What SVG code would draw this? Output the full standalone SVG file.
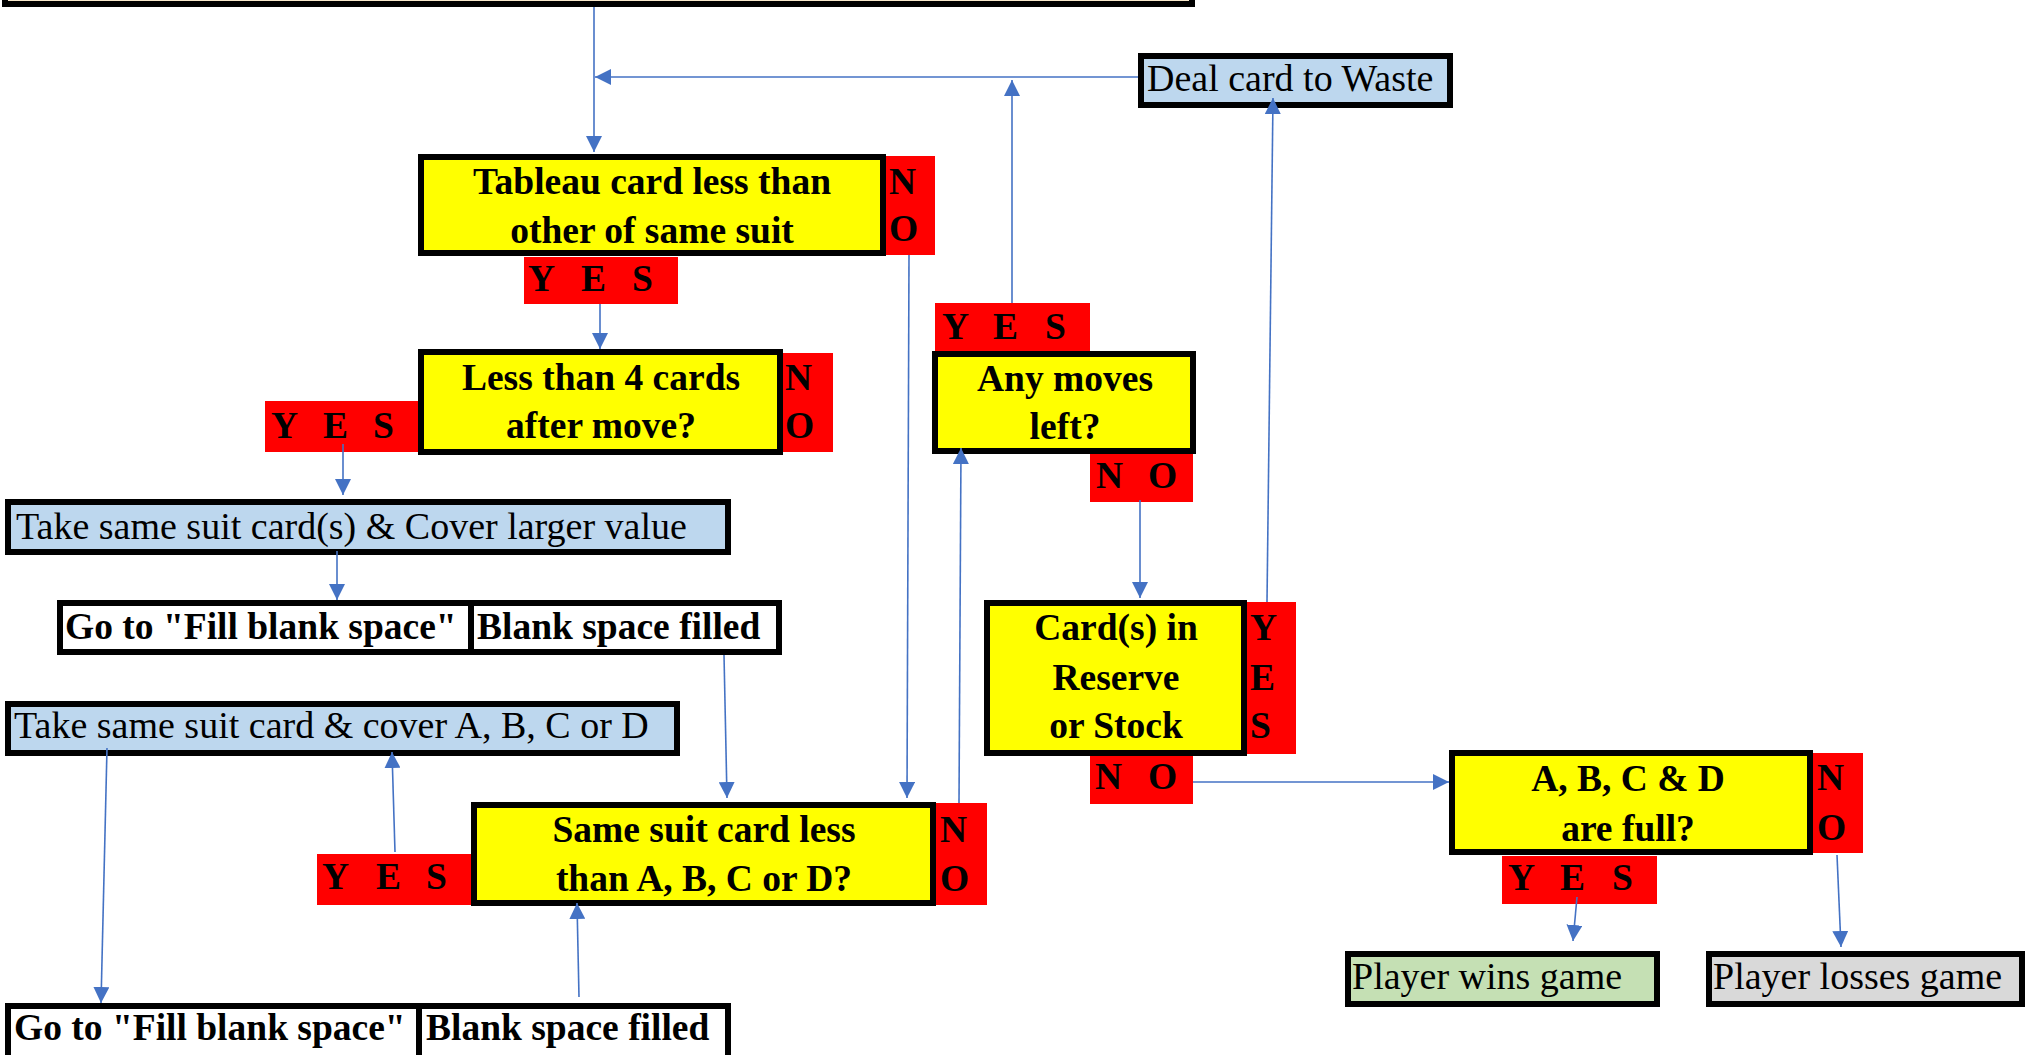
<svg xmlns="http://www.w3.org/2000/svg" width="2044" height="1055" viewBox="0 0 2044 1055">
<defs>
<style>
.t{font-family:"Liberation Serif","Times New Roman",serif;font-size:38px;fill:#000}
.b{font-weight:bold;font-size:37.5px}
.c{text-anchor:middle}
.dec{fill:#FFFF00;stroke:#000;stroke-width:6}
.act{fill:#BDD7EE;stroke:#000;stroke-width:6}
.wht{fill:#FFFFFF;stroke:#000;stroke-width:6}
.red{fill:#FF0000}
.cn{fill:none;stroke:#4472C4;stroke-width:1.6;marker-end:url(#ah)}
</style>
<marker id="ah" markerUnits="userSpaceOnUse" markerWidth="16" markerHeight="16" viewBox="0 0 16 16" refX="16" refY="8" orient="auto">
<path d="M0,0 L16,8 L0,16 z" fill="#4472C4"/>
</marker>
</defs>
<rect width="2044" height="1055" fill="#FFFFFF"/>

<g id="start"><rect x="5" y="-50" width="1187" height="54" fill="#F9E8CB" stroke="#000" stroke-width="6"/></g>

<g id="deal"><rect class="act" x="1141" y="56" width="309" height="49"/><text class="t" x="1147" y="91">Deal card to Waste</text></g>

<g id="tableau">
<rect class="dec" x="421" y="157" width="462" height="96"/>
<text class="t b c" x="652" y="194">Tableau card less than</text>
<text class="t b c" x="652" y="243">other of same suit</text>
<rect class="red" x="886" y="156" width="49" height="99"/>
<text class="t b" x="889" y="194">N</text><text class="t b" x="889" y="241">O</text>
<rect class="red" x="524" y="257" width="154" height="47"/>
<text class="t b" y="291"><tspan x="528">Y</tspan><tspan x="581">E</tspan><tspan x="632">S</tspan></text>
</g>

<g id="less4">
<rect class="dec" x="421" y="352" width="359" height="100"/>
<text class="t b c" x="601" y="390">Less than 4 cards</text>
<text class="t b c" x="601" y="438">after move?</text>
<rect class="red" x="783" y="353" width="50" height="99"/>
<text class="t b" x="785" y="390">N</text><text class="t b" x="785" y="438">O</text>
<rect class="red" x="265" y="401" width="153" height="51"/>
<text class="t b" y="438"><tspan x="271">Y</tspan><tspan x="323">E</tspan><tspan x="373">S</tspan></text>
</g>

<g id="takeLarger"><rect class="act" x="8" y="502" width="720" height="50"/><text class="t" x="16" y="539">Take same suit card(s) &amp; Cover larger value</text></g>

<g id="gotoFill1">
<rect class="wht" x="60" y="603" width="411" height="49"/><text class="t b" x="65" y="639">Go to "Fill blank space"</text>
</g>
<g id="filled1">
<rect class="wht" x="471" y="603" width="308" height="49"/><text class="t b" x="477" y="639">Blank space filled</text>
</g>

<g id="takeCover"><rect class="act" x="8" y="704" width="669" height="49"/><text class="t" x="14" y="738">Take same suit card &amp; cover A, B, C or D</text></g>

<g id="sameSuit">
<rect class="dec" x="474" y="805" width="459" height="98"/>
<text class="t b c" x="704" y="842">Same suit card less</text>
<text class="t b c" x="704" y="891">than A, B, C or D?</text>
<rect class="red" x="936" y="803" width="51" height="102"/>
<text class="t b" x="940" y="842">N</text><text class="t b" x="940" y="891">O</text>
<rect class="red" x="317" y="854" width="154" height="51"/>
<text class="t b" y="889"><tspan x="322">Y</tspan><tspan x="376">E</tspan><tspan x="426">S</tspan></text>
</g>

<g id="gotoFill2">
<rect class="wht" x="8" y="1006" width="411" height="52"/><text class="t b" x="14" y="1040">Go to "Fill blank space"</text>
</g>
<g id="filled2">
<rect class="wht" x="419" y="1006" width="309" height="52"/><text class="t b" x="426" y="1040">Blank space filled</text>
</g>

<g id="anyMoves">
<rect class="red" x="935" y="303" width="155" height="48"/>
<text class="t b" y="339"><tspan x="942">Y</tspan><tspan x="993">E</tspan><tspan x="1045">S</tspan></text>
<rect class="dec" x="935" y="354" width="258" height="97"/>
<text class="t b c" x="1065" y="391">Any moves</text>
<text class="t b c" x="1065" y="439">left?</text>
<rect class="red" x="1090" y="454" width="103" height="48"/>
<text class="t b" y="488"><tspan x="1096">N</tspan><tspan x="1148">O</tspan></text>
</g>

<g id="reserve">
<rect class="dec" x="987" y="603" width="257" height="150"/>
<text class="t b c" x="1116" y="640">Card(s) in</text>
<text class="t b c" x="1116" y="690">Reserve</text>
<text class="t b c" x="1116" y="738">or Stock</text>
<rect class="red" x="1247" y="602" width="49" height="152"/>
<text class="t b" x="1250" y="640">Y</text><text class="t b" x="1250" y="690">E</text><text class="t b" x="1250" y="738">S</text>
<rect class="red" x="1090" y="756" width="103" height="48"/>
<text class="t b" y="789"><tspan x="1095">N</tspan><tspan x="1148">O</tspan></text>
</g>

<g id="abcd">
<rect class="dec" x="1452" y="753" width="358" height="99"/>
<text class="t b c" x="1628" y="791">A, B, C &amp; D</text>
<text class="t b c" x="1628" y="841">are full?</text>
<rect class="red" x="1813" y="753" width="50" height="100"/>
<text class="t b" x="1817" y="790">N</text><text class="t b" x="1817" y="840">O</text>
<rect class="red" x="1502" y="856" width="155" height="48"/>
<text class="t b" y="890"><tspan x="1508">Y</tspan><tspan x="1560">E</tspan><tspan x="1612">S</tspan></text>
</g>

<g id="wins"><rect x="1348" y="954" width="309" height="50" fill="#C5E0B4" stroke="#000" stroke-width="6"/><text class="t" x="1352" y="989">Player wins game</text></g>
<g id="losses"><rect x="1709" y="954" width="313" height="50" fill="#D9D9D9" stroke="#000" stroke-width="6"/><text class="t" x="1713" y="989">Player losses game</text></g>

<g id="connectors">
<path class="cn" d="M594,7 L594,152"/>
<path class="cn" d="M1138,77 L595,77"/>
<path class="cn" d="M1012,303 L1012,80"/>
<path class="cn" d="M1267,602 L1273,98"/>
<path class="cn" d="M600,304 L600,349"/>
<path class="cn" d="M343,444 L343,495"/>
<path class="cn" d="M337,551 L337,600"/>
<path class="cn" d="M724,655 L727,798"/>
<path class="cn" d="M909,255 L907,798"/>
<path class="cn" d="M959,803 L961,448"/>
<path class="cn" d="M1140,500 L1140,598"/>
<path class="cn" d="M1193,782 L1449,782"/>
<path class="cn" d="M395,852 L392,752"/>
<path class="cn" d="M107,748 L101,1003"/>
<path class="cn" d="M579,997 L577,903"/>
<path class="cn" d="M1577,897 L1573,941"/>
<path class="cn" d="M1837,855 L1841,947"/>
</g>
</svg>
